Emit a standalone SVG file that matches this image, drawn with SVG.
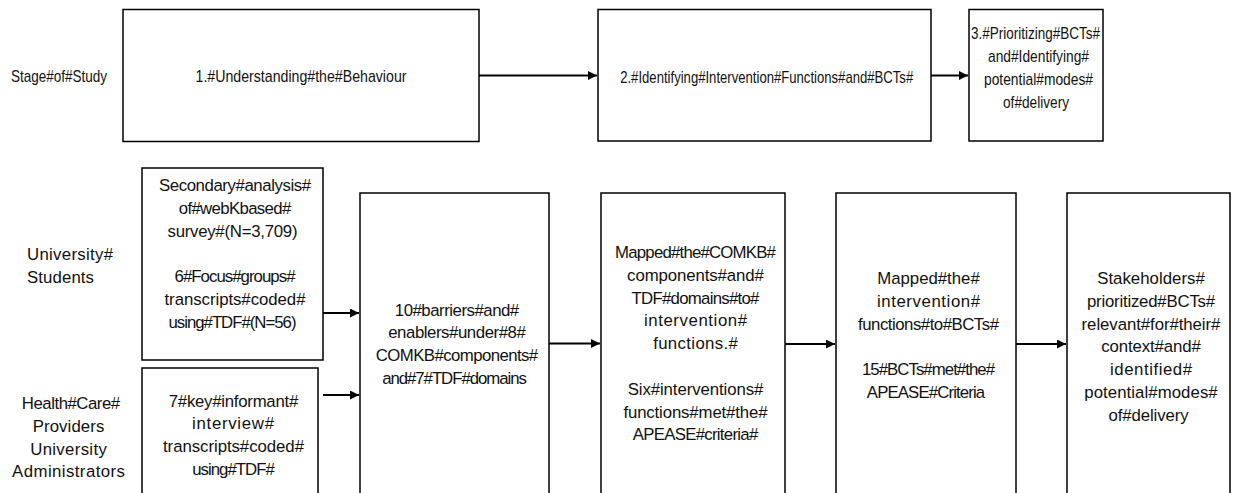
<svg xmlns="http://www.w3.org/2000/svg" width="1242" height="493" viewBox="0 0 1242 493">
  <style>
    .box { fill: #ffffff; stroke: #000000; stroke-width: 1.5; }
    .lbl { font-family: "Liberation Sans", Arial, sans-serif; font-size: 16.8px; fill: #111111; text-anchor: middle; }
    .start { text-anchor: start; }
    .top { font-size: 16.4px; }
    .conn { fill: none; stroke: #000000; stroke-width: 2; }
  </style>
  <defs>
    <marker id="head" markerUnits="userSpaceOnUse" markerWidth="10" markerHeight="9" refX="9" refY="4.5" orient="auto">
      <path d="M0,0 L9,4.5 L0,9 Z" fill="#000000"/>
    </marker>
  </defs>

  <rect width="1242" height="493" fill="#ffffff"/>

  <!-- row labels -->
  <g id="label-stage">
    <text class="lbl start top" x="11" y="82" textLength="96" lengthAdjust="spacingAndGlyphs">Stage#of#Study</text>
  </g>
  <g id="label-students">
    <text class="lbl start" x="27" y="260" textLength="86" lengthAdjust="spacing">University#</text>
    <text class="lbl start" x="27" y="282.8" textLength="67" lengthAdjust="spacing">Students</text>
  </g>
  <g id="label-providers">
    <text class="lbl" x="71" y="409" textLength="98.4" lengthAdjust="spacing">Health#Care#</text>
    <text class="lbl" x="68.5" y="431.8" textLength="71.6" lengthAdjust="spacing">Providers</text>
    <text class="lbl" x="68.5" y="454.6" textLength="76.6" lengthAdjust="spacing">University</text>
    <text class="lbl" x="68.5" y="477.4" textLength="112.8" lengthAdjust="spacing">Administrators</text>
  </g>

  <!-- stage boxes -->
  <g id="stage-1">
    <rect class="box" x="123" y="9.5" width="356" height="132"/>
    <text class="lbl top" x="301" y="82" textLength="211" lengthAdjust="spacingAndGlyphs">1.#Understanding#the#Behaviour</text>
  </g>
  <g id="stage-2">
    <rect class="box" x="598" y="9.5" width="333" height="131.5"/>
    <text class="lbl top" x="766.7" y="83" textLength="293" lengthAdjust="spacingAndGlyphs">2.#Identifying#Intervention#Functions#and#BCTs#</text>
  </g>
  <g id="stage-3">
    <rect class="box" x="969" y="9.5" width="134" height="131.5"/>
    <text class="lbl top" x="1035.5" y="39" textLength="129" lengthAdjust="spacingAndGlyphs">3.#Prioritizing#BCTs#</text>
    <text class="lbl top" x="1038.5" y="61.8" textLength="101" lengthAdjust="spacingAndGlyphs">and#Identifying#</text>
    <text class="lbl top" x="1038.5" y="85" textLength="109" lengthAdjust="spacingAndGlyphs">potential#modes#</text>
    <text class="lbl top" x="1036" y="108.2" textLength="66" lengthAdjust="spacingAndGlyphs">of#delivery</text>
  </g>

  <!-- data sources -->
  <g id="source-students">
    <rect class="box" x="142" y="168" width="181" height="192"/>
    <text class="lbl" x="235" y="191" textLength="152" lengthAdjust="spacing">Secondary#analysis#</text>
    <text class="lbl" x="235" y="213.8" textLength="112.5" lengthAdjust="spacing">of#webKbased#</text>
    <text class="lbl" x="232.5" y="236.6" textLength="130" lengthAdjust="spacing">survey#(N=3,709)</text>
    <text class="lbl" x="235" y="282.2" textLength="121" lengthAdjust="spacing">6#Focus#groups#</text>
    <text class="lbl" x="235" y="305" textLength="141" lengthAdjust="spacing">transcripts#coded#</text>
    <text class="lbl" x="232.5" y="327.8" textLength="128" lengthAdjust="spacing">using#TDF#(N=56)</text>
  </g>
  <g id="source-providers">
    <rect class="box" x="142" y="368" width="176" height="135"/>
    <text class="lbl" x="233.5" y="406.5" textLength="129.5" lengthAdjust="spacing">7#key#informant#</text>
    <text class="lbl" x="233" y="429.3" textLength="82" lengthAdjust="spacing">interview#</text>
    <text class="lbl" x="233.5" y="452.1" textLength="141" lengthAdjust="spacing">transcripts#coded#</text>
    <text class="lbl" x="233.5" y="474.9" textLength="82.6" lengthAdjust="spacing">using#TDF#</text>
  </g>

  <!-- findings -->
  <g id="barriers">
    <rect class="box" x="360" y="193" width="189" height="310"/>
    <text class="lbl" x="457" y="315.5" textLength="124.4" lengthAdjust="spacing">10#barriers#and#</text>
    <text class="lbl" x="457" y="338.3" textLength="137.6" lengthAdjust="spacing">enablers#under#8#</text>
    <text class="lbl" x="457" y="361.1" textLength="162.4" lengthAdjust="spacing">COMKB#components#</text>
    <text class="lbl" x="454.5" y="383.9" textLength="144.7" lengthAdjust="spacing">and#7#TDF#domains</text>
  </g>
  <g id="intervention-functions">
    <rect class="box" x="601" y="193" width="184" height="310"/>
    <text class="lbl" x="695.5" y="258" textLength="160.8" lengthAdjust="spacing">Mapped#the#COMKB#</text>
    <text class="lbl" x="695.5" y="280.8" textLength="136.8" lengthAdjust="spacing">components#and#</text>
    <text class="lbl" x="695.5" y="303.6" textLength="127.9" lengthAdjust="spacing">TDF#domains#to#</text>
    <text class="lbl" x="695.5" y="326.4" textLength="103.2" lengthAdjust="spacing">intervention#</text>
    <text class="lbl" x="695.5" y="349.2" textLength="84.7" lengthAdjust="spacing">functions.#</text>
    <text class="lbl" x="695.5" y="394.8" textLength="135.6" lengthAdjust="spacing">Six#interventions#</text>
    <text class="lbl" x="695.5" y="417.6" textLength="144.2" lengthAdjust="spacing">functions#met#the#</text>
    <text class="lbl" x="695.5" y="440.4" textLength="125.6" lengthAdjust="spacing">APEASE#criteria#</text>
  </g>
  <g id="bcts">
    <rect class="box" x="836" y="193" width="180" height="310"/>
    <text class="lbl" x="928.5" y="284" textLength="102.5" lengthAdjust="spacing">Mapped#the#</text>
    <text class="lbl" x="928.5" y="306.8" textLength="103.2" lengthAdjust="spacing">intervention#</text>
    <text class="lbl" x="928.5" y="329.6" textLength="141" lengthAdjust="spacing">functions#to#BCTs#</text>
    <text class="lbl" x="928.5" y="375.2" textLength="133.2" lengthAdjust="spacing">15#BCTs#met#the#</text>
    <text class="lbl" x="926" y="398" textLength="118.3" lengthAdjust="spacing">APEASE#Criteria</text>
  </g>
  <g id="prioritization">
    <rect class="box" x="1067" y="193" width="163" height="310"/>
    <text class="lbl" x="1151" y="284" textLength="107.7" lengthAdjust="spacing">Stakeholders#</text>
    <text class="lbl" x="1151" y="306.8" textLength="128.2" lengthAdjust="spacing">prioritized#BCTs#</text>
    <text class="lbl" x="1151" y="329.6" textLength="138.8" lengthAdjust="spacing">relevant#for#their#</text>
    <text class="lbl" x="1151" y="352.4" textLength="99.5" lengthAdjust="spacing">context#and#</text>
    <text class="lbl" x="1151" y="375.2" textLength="82.1" lengthAdjust="spacing">identified#</text>
    <text class="lbl" x="1151" y="398" textLength="133.4" lengthAdjust="spacing">potential#modes#</text>
    <text class="lbl" x="1148.5" y="420.8" textLength="80.1" lengthAdjust="spacing">of#delivery</text>
  </g>

  <!-- connectors -->
  <g id="connectors">
    <path class="conn" d="M479,75.5 H597" marker-end="url(#head)"/>
    <path class="conn" d="M931,75.5 H968" marker-end="url(#head)"/>
    <path class="conn" d="M323,313 H359" marker-end="url(#head)"/>
    <path class="conn" d="M323,395 H359" marker-end="url(#head)"/>
    <path class="conn" d="M549,343.5 H600" marker-end="url(#head)"/>
    <path class="conn" d="M785,344 H835" marker-end="url(#head)"/>
    <path class="conn" d="M1016,344 H1066" marker-end="url(#head)"/>
  </g>
</svg>
